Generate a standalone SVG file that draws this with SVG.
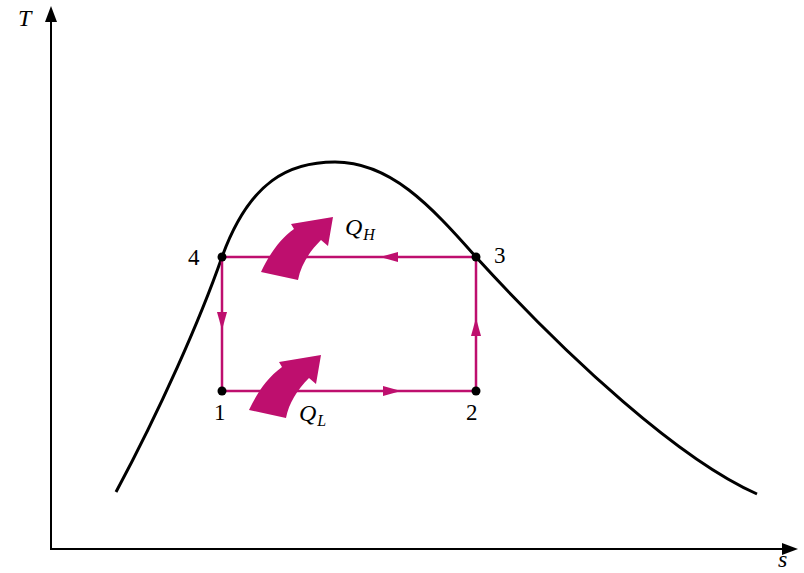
<svg xmlns="http://www.w3.org/2000/svg" width="804" height="573" viewBox="0 0 804 573">
<style>
.ax{stroke:#000;stroke-width:2;fill:none}
.cv{stroke:#000;stroke-width:3;fill:none}
.cy{stroke:#BE0F6E;stroke-width:2.5;fill:none}
.mg{fill:#BE0F6E}
.dot{fill:#000}
.lb{font-family:"Liberation Serif","Times New Roman",serif;font-size:23px;fill:#000}
.it{font-family:"Liberation Serif","Times New Roman",serif;font-style:italic;font-size:24px;fill:#000}
.sub{font-family:"Liberation Serif","Times New Roman",serif;font-style:italic;font-size:16px;fill:#000}
</style>
<rect width="804" height="573" fill="#fff"/>
<g id="axes">
<path class="ax" d="M51,550 V18 M51,549 H787"/>
<polygon points="51,6 45,22 57,22" fill="#000"/>
<polygon points="798,549 782,543 782,555" fill="#000"/>
<text class="it" x="18" y="26">T</text>
<text class="it" x="778" y="567">s</text>
</g>
<g id="dome">
<path class="cv" d="M116,492 C160,410 200,320 222,257 C250,180 290,162 335,162 C390,162 430,205 476,257 C570,360 680,460 757,494"/>
</g>
<g id="connectors">
<path class="cy" d="M476,257 H222 V391 H476 V257"/>
<polygon class="mg" points="380,257 398,252 398,262"/>
<polygon class="mg" points="401,391 383,386 383,396"/>
<polygon class="mg" points="222,330 217,312 227,312"/>
<polygon class="mg" points="476,318 471,336 481,336"/>
</g>
<g id="QH">
<path class="mg" d="M261,272 C269,255 279,240 294,229 L291,224 L333,217 L328,246 L321,240 C309,252 301,265 298,280 Z"/>
<text class="it" x="345" y="235">Q<tspan class="sub" dx="1" dy="5">H</tspan></text>
</g>
<g id="QL">
<path class="mg" d="M249,410 C257,393 267,378 282,367 L279,362 L321,355 L316,384 L309,378 C297,390 289,403 286,418 Z"/>
<text class="it" x="299" y="421">Q<tspan class="sub" dx="1" dy="5">L</tspan></text>
</g>
<g id="n4"><circle class="dot" cx="222" cy="257" r="4.5"/><text class="lb" x="188" y="265">4</text></g>
<g id="n3"><circle class="dot" cx="476" cy="257" r="4.5"/><text class="lb" x="494" y="263">3</text></g>
<g id="n1"><circle class="dot" cx="222" cy="391" r="4.5"/><text class="lb" x="214" y="420">1</text></g>
<g id="n2"><circle class="dot" cx="476" cy="391" r="4.5"/><text class="lb" x="466" y="420">2</text></g>
</svg>
